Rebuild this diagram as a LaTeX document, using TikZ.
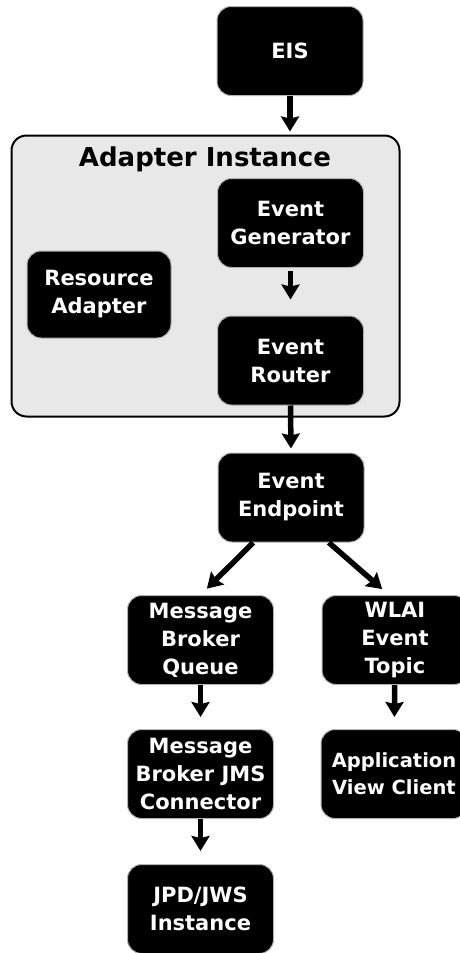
\documentclass[tikz,border=0pt]{standalone}
\usepackage{fontspec}
\setmainfont{DejaVu Sans}
\usepackage{tikz}
\usetikzlibrary{arrows.meta,calc}
\tikzstyle{line}=[draw]
\tikzstyle{arrow}=[line,line width=5.5pt,-{Stealth[width=18pt,length=15pt,inset=2pt]}]
\tikzstyle{box}=[fill=black,draw=black!30,line width=1pt,rounded corners=14pt,text=white,align=center,minimum width=146pt,minimum height=89pt,inner sep=0pt,font=\fontsize{21}{28}\selectfont\bfseries]
\tikzstyle{group}=[fill=black!9,draw=black,line width=2pt,rounded corners=15pt,minimum width=388pt,minimum height=281pt]
\begin{document}
\begin{tikzpicture}[x=1pt,y=-1pt]
\useasboundingbox (0,0) rectangle (460,953);
\node[group](adapter) at (205.5,276){};
\node[font=\fontsize{26}{30}\selectfont\bfseries](title) at (205,159){Adapter Instance};
\node[box](eis) at (290,51){EIS};
\node[box](gen) at (290.5,223){Event\\Generator};
\node[box](router) at (290.5,360.5){Event\\Router};
\node[box,minimum width=144pt,minimum height=87pt](res) at (99,294.5){Resource\\Adapter};
\node[box](endpoint) at (291,497.5){Event\\Endpoint};
\node[box](queue) at (200.5,640){Message\\Broker\\Queue};
\node[box](topic) at (395,640){WLAI\\Event\\Topic};
\node[box](jms) at (200.5,774){Message\\Broker JMS\\Connector};
\node[box,font=\fontsize{19.5}{27}\selectfont\bfseries](client) at (394,774){Application\\View Client};
\node[box](jpd) at (200.5,909){JPD/JWS\\Instance};
% connectors
\draw [arrow,shorten >=3pt] (eis.south)--(eis.south |- adapter.north);
\draw [arrow,shorten <=3pt,shorten >=16pt] (gen.south)--(router.north);
\draw [arrow,shorten >=4pt] (router.south)--(endpoint.north);
\draw [arrow,shorten >=9pt] (endpoint.-130)--(queue.north);
\draw [arrow,shorten >=9pt] (endpoint.-50)--($(topic.north)+(-6,0)$);
\draw [arrow,shorten >=12pt] (queue)--(jms);
\draw [arrow,shorten >=12pt] (topic)--(client);
\draw [arrow,shorten >=13pt] (jms)--(jpd);
\end{tikzpicture}
\end{document}
